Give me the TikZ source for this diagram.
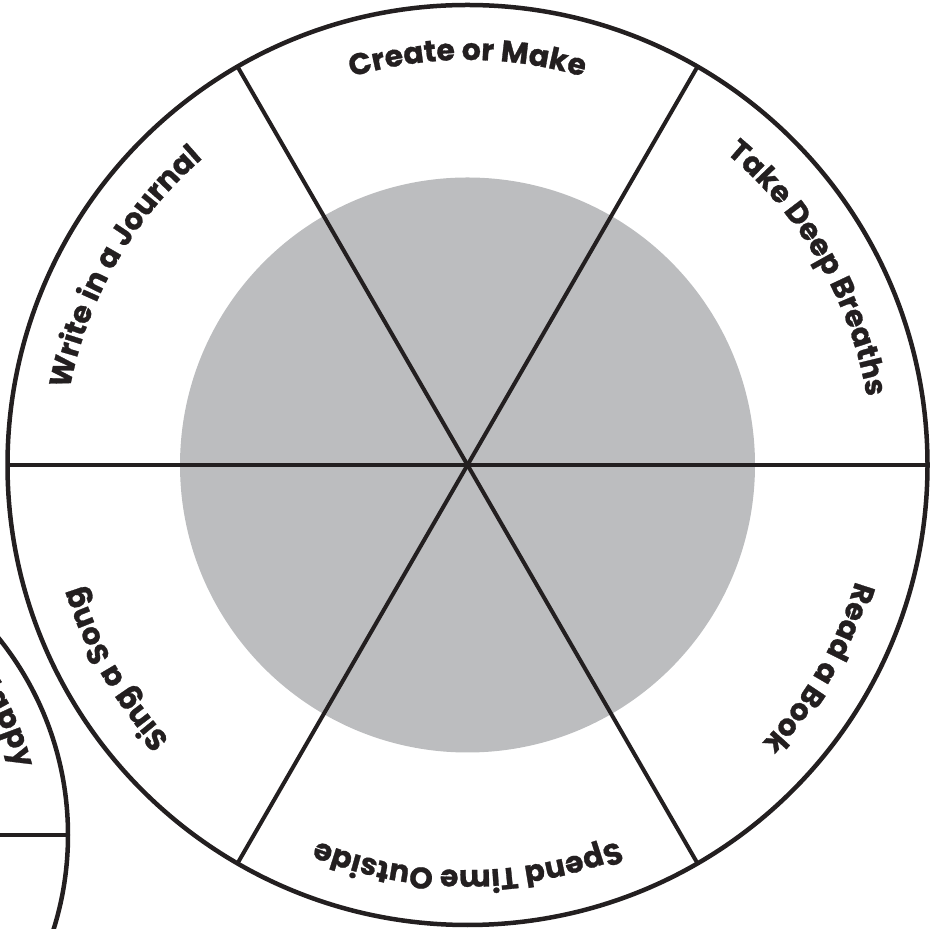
\documentclass[tikz,border=0pt]{standalone}
\usepackage{fontspec}
\setmainfont{Poppins}[BoldFeatures={FakeBold=0.9}]
\usetikzlibrary{decorations.text,calc}
\definecolor{ink}{RGB}{35,31,32}
\definecolor{diskgray}{RGB}{188,189,191}
\newcommand\wheelfont{\bfseries\fontsize{30}{33}\selectfont}
\newcommand\arclabel[4]{%
  \path[decorate,decoration={text along path,text align=center,text color=ink,
    text={|\wheelfont|#4}}] (#1) ++(#3+50:#2) arc[start angle=#3+50,end angle=#3-50,radius=#2];}
\begin{document}
\begin{tikzpicture}[x=1pt,y=1pt,
  rim/.style={draw=ink,line width=4.5pt},
  spoke/.style={draw=ink,line width=4pt,line cap=butt}]
\useasboundingbox (0,0) rectangle (941,928);
\clip (0,0) rectangle (941,928);
\coordinate (C) at (467.5,463);
\coordinate (S) at (-246,93);
% main wheel
\fill[diskgray] (C) circle[radius=287.5];
\foreach \a in {0,60,120}{
  \draw[spoke] ($(C)+(\a:460)$) -- ($(C)+(\a+180:460)$);
}
\draw[rim] (C) circle[radius=460];
\arclabel{C}{405}{90}{Create or Make}
\arclabel{C}{405}{30}{Take Deep Breaths}
\arclabel{C}{405}{-30}{Read a Book}
\arclabel{C}{405}{-90}{Spend Time Outside}
\arclabel{C}{405}{-150}{Sing a Song}
\arclabel{C}{405}{150}{Write in a Journal}
% partial second wheel
\draw[spoke] (S) -- ($(S)+(0:314)$);
\draw[rim] (S) circle[radius=314];
\arclabel{S}{270}{25}{Happy}
\end{tikzpicture}
\end{document}
